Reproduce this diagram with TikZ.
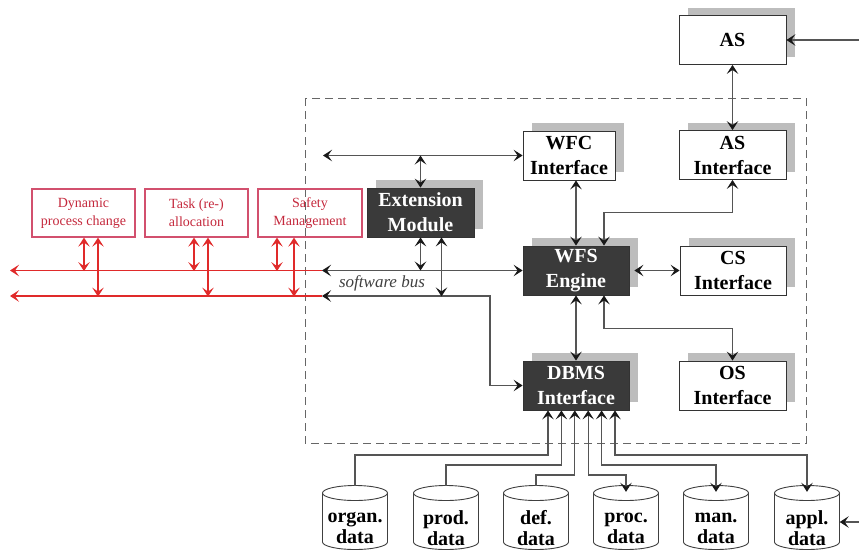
\documentclass[tikz,border=0pt]{standalone}
\usepackage{fontspec}
\setmainfont{Liberation Serif}
\usetikzlibrary{arrows.meta,shadows}
\definecolor{linegray}{HTML}{555555}
\definecolor{boxdark}{HTML}{3A3A3A}
\definecolor{shadowgray}{HTML}{BDBDBD}
\definecolor{redline}{HTML}{E02A2A}
\definecolor{rededge}{HTML}{D2506E}
\definecolor{redtext}{HTML}{C4283C}
\tikzset{
  tipA/.tip={Stealth[length=9pt,width=11.5pt,inset=4pt]},
  bi/.style={arrows={tipA-tipA}},
  fwd/.style={arrows={-tipA}},
  box/.style={draw=black!80, line width=0.8pt, fill=white, minimum width=107pt,
    minimum height=49pt, align=center, inner sep=0pt,
    font=\bfseries\fontsize{20}{25}\selectfont,
    drop shadow={shadow xshift=9pt,shadow yshift=8pt,opacity=1,fill=shadowgray}},
  darkbox/.style={box, fill=boxdark, text=white},
  redbox/.style={draw=rededge, line width=1.2pt, minimum width=103pt, minimum height=48pt,
    align=center, inner sep=0pt, text=redtext, font=\fontsize{14}{18}\selectfont},
  conn/.style={draw=linegray, line width=1.1pt, arrows={[color=black!90]}},
  redconn/.style={draw=redline, line width=1.3pt},
  dashframe/.style={draw=black!60, line width=0.9pt, dash pattern=on 8pt off 5pt},
  dbline/.style={draw=black!75, line width=0.9pt},
  dbtext/.style={align=center, inner sep=0pt, minimum width=65pt, minimum height=84pt,
    font=\bfseries\fontsize{20}{21}\selectfont},
}
% database cylinder outline around centre x = #1
\newcommand{\dbcylinder}[1]{%
  \draw[dbline, fill=white] (#1-32.5,493) -- (#1-32.5,542)
    arc[start angle=180, end angle=0, x radius=32.5, y radius=7.5] -- (#1+32.5,493);
  \draw[dbline] (#1,493) ellipse[x radius=32.5, y radius=7.5];
}
\begin{document}
\begin{tikzpicture}[x=1pt, y=-1pt]
\useasboundingbox (0,0) rectangle (859,552);

% system boundary
\draw[dashframe] (305,98) rectangle (806,443);

% components
\node[box] (as) at (732.5,40) {AS};
\node[box] (asi) at (732.5,155) {AS\\Interface};
\node[box, minimum width=92pt] (wfc) at (569,155.5) {WFC\\Interface};
\node[darkbox] (ext) at (420.5,212.5) {Extension\\Module};
\node[darkbox, minimum width=106pt] (wfs) at (576,270.5) {WFS\\Engine};
\node[box, minimum width=106pt] (cs) at (733,270.5) {CS\\Interface};
\node[darkbox, minimum width=106pt] (dbms) at (576,385.5) {DBMS\\Interface};
\node[box] (os) at (732.5,385.5) {OS\\Interface};

% external extension services
\node[redbox] (dyn) at (83.5,213) {Dynamic\\process change};
\node[redbox] (task) at (196.5,213) {Task (re-)\\allocation};
\node[redbox, minimum width=104pt] (safe) at (310,213) {Safety\\Management};

% databases
\dbcylinder{355}\dbcylinder{446}\dbcylinder{536}
\dbcylinder{626}\dbcylinder{716}\dbcylinder{807}
\node[dbtext] (organ) at (355,528) {organ.\\data};
\node[dbtext] (prod) at (446,528) {prod.\\data};
\node[dbtext] (def) at (536,528) {def.\\data};
\node[dbtext] (proc) at (626,528) {proc.\\data};
\node[dbtext] (man) at (716,528) {man.\\data};
\node[dbtext] (appl) at (807,528) {appl.\\data};

% free ends and bend points
\coordinate (asin) at (859,40);
\coordinate (applin) at (859,522);
\coordinate (topL) at (323,155.5);
\coordinate (busA) at (322,270.5);
\coordinate (busB) at (322,296);
\coordinate (busBend) at (490,296);
\coordinate (redA) at (10,270.5);
\coordinate (redB) at (10,296);
\coordinate (lv1) at (0,455);
\coordinate (lv2) at (0,465);
\coordinate (lv3) at (0,475);

% top-level connectors
\draw[conn,fwd] (asin) -- (as.east);
\draw[conn,bi] (as.south) -- (asi.north);
\draw[conn,bi] (topL) -- (wfc.west);
\draw[conn,bi] (ext.north) -- (ext.north |- topL);
\draw[conn,bi] (wfs.north |- wfc.south) -- (wfs.north);
\draw[conn,bi] ([xshift=28pt]wfs.north) -- ++(0,-33) -| (asi.south);
\draw[conn,bi] ([xshift=5pt]wfs.east) -- (cs.west);
\draw[conn,bi] (wfs.south) -- (dbms.north);
\draw[conn,bi] ([xshift=28pt]wfs.south) -- ++(0,33) -| (os.north);

% software bus
\draw[conn,bi] (busA) -- (wfs.west);
\draw[conn,bi] (busB) -- (busBend) |- (dbms.west);
\draw[conn,bi] (ext.south) -- (ext.south |- busA);
\draw[conn,bi] ([xshift=21pt]ext.south) -- ++(0,59);
\node[font=\itshape\fontsize{17}{20}\selectfont, text=black!75] (bus) at (382,283) {software bus};

% bus extension to external services
\draw[redconn,fwd] (busA) -- (redA);
\draw[redconn,fwd] (busB) -- (redB);
\draw[redconn,bi] ([xshift=0.5pt]dyn.south) -- ++(0,33.5);
\draw[redconn,bi] ([xshift=14.5pt]dyn.south) -- ++(0,59);
\draw[redconn,bi] ([xshift=-2.5pt]task.south) -- ++(0,33.5);
\draw[redconn,bi] ([xshift=11.5pt]task.south) -- ++(0,59);
\draw[redconn,bi] ([xshift=-33pt]safe.south) -- ++(0,33.5);
\draw[redconn,bi] ([xshift=-16pt]safe.south) -- ++(0,59);

% database connections
\coordinate (p1) at ([xshift=-28pt]dbms.south);
\coordinate (p2) at ([xshift=-14.6pt]dbms.south);
\coordinate (p3) at ([xshift=-1.2pt]dbms.south);
\coordinate (p4) at ([xshift=12.2pt]dbms.south);
\coordinate (p5) at ([xshift=25.6pt]dbms.south);
\coordinate (p6) at ([xshift=39pt]dbms.south);
\draw[conn,fwd] (organ.north) -- (organ.north |- lv1) -| (p1);
\draw[conn,fwd] (prod.north) -- (prod.north |- lv2) -| (p2);
\draw[conn,fwd] (def.north) -- (def.north |- lv3) -| (p3);
\draw[conn,bi] (p4) -- (p4 |- lv3) -| ([yshift=-6pt]proc.north);
\draw[conn,bi] (p5) -- (p5 |- lv2) -| ([yshift=-6pt]man.north);
\draw[conn,bi] (p6) -- (p6 |- lv1) -| ([yshift=-6pt]appl.north);
\draw[conn,fwd] (applin) -- (applin -| appl.east);
\end{tikzpicture}
\end{document}
